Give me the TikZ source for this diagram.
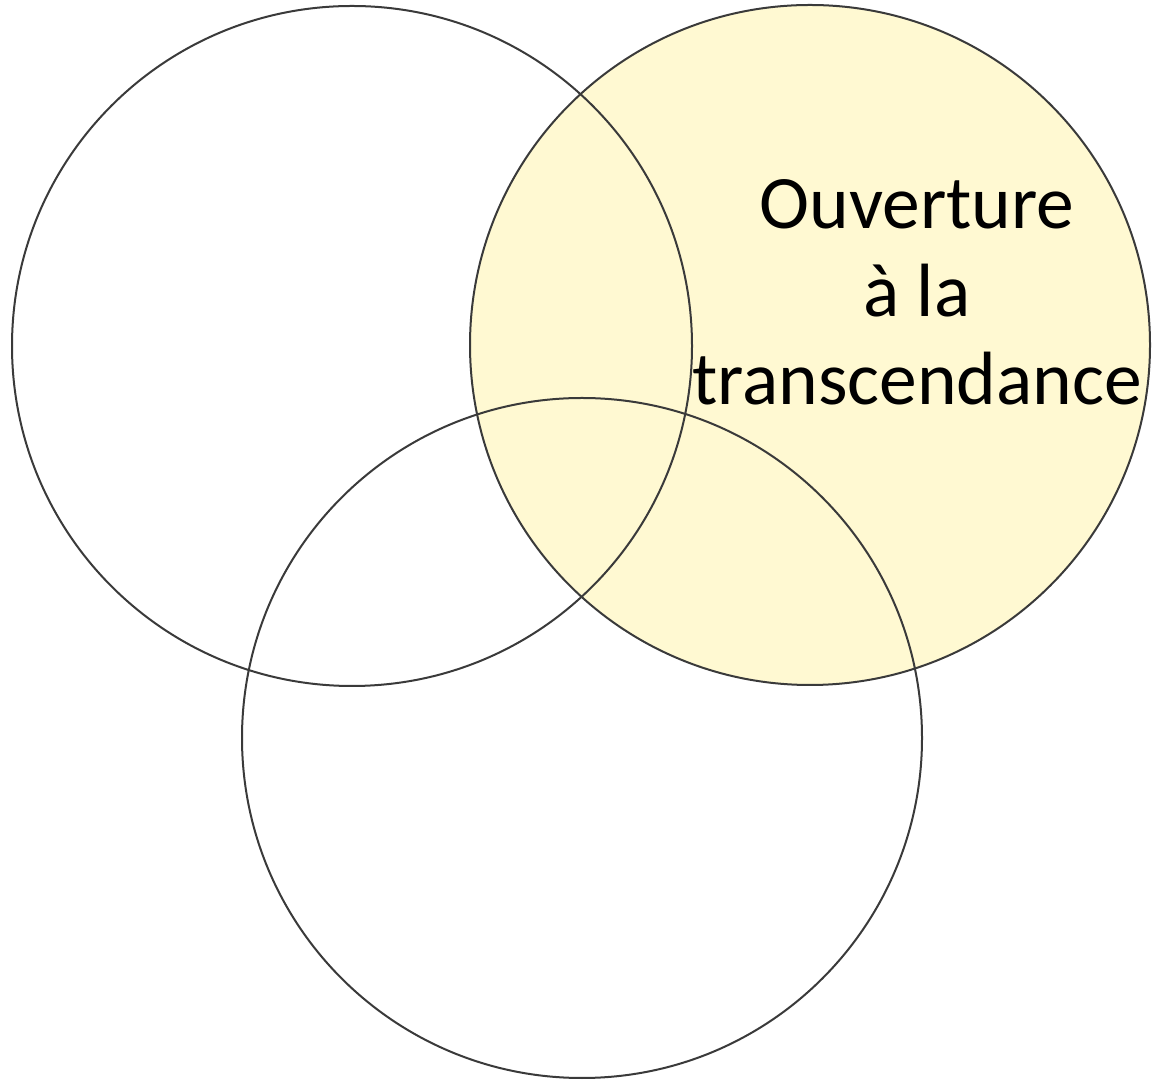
\documentclass[tikz,border=0pt]{standalone}
\usepackage{fontspec}
\setmainfont{Carlito}
\definecolor{paleyellow}{HTML}{FFF9D2}
\definecolor{ringgray}{HTML}{3A3A3A}

\begin{document}
\begin{tikzpicture}[x=1pt,y=1pt,
   ring/.style={circle,draw=ringgray,line width=2pt,minimum size=680pt,inner sep=0pt}]
   \useasboundingbox (0,0) rectangle (1153,1081);
   \node[ring,fill=paleyellow] (right) at (810,736) {};
   \node[ring] (left) at (352,735) {};
   \node[ring] (bottom) at (582,343) {};
   \node[align=center,inner sep=0pt,font=\fontsize{75.5}{88}\selectfont] (label) at (917,789)
      {Ouverture\\à la\\transcendance};
\end{tikzpicture}
\end{document}
